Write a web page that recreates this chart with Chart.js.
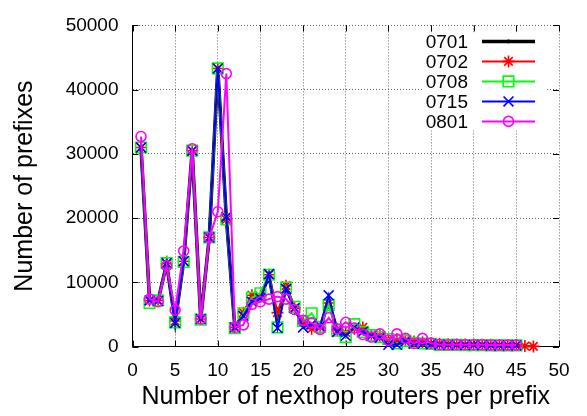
<!DOCTYPE html>
<html>
<head>
<meta charset="utf-8">
<script src="https://cdn.jsdelivr.net/npm/chart.js"></script>
<style>
html,body{margin:0;padding:0;background:#fff;}
#wrap{width:587px;height:416px;}
</style>
</head>
<body>
<div id="wrap"><canvas id="c" width="587" height="416"></canvas></div>
<script>
// ---- data ----
const nexthops = [1,2,3,4,5,6,7,8,9,10,11,12,13,14,15,16,17,18,19,20,21,22,23,24,25,26,27,28,29,30,31,32,33,34,35,36,37,38,39,40,41,42,43,44,45,46,47];
const seriesNames = ["0701","0702","0708","0715","0801"];
const s0701 = [31000,7200,7200,12900,3900,13300,30500,4300,17000,43300,20000,3000,5000,7500,7800,11000,4000,9200,6000,3500,3500,3000,7000,2500,2000,3000,2500,1800,1600,1000,800,900,700,600,500,400,350,300,300,300,250,250,250,200,200,50];
const s0702 = [31000,7200,7200,12900,4000,13300,30500,4300,17000,43300,19800,3000,5300,8000,7800,11200,5300,9500,6000,3800,2800,3000,6800,2600,2200,2800,3000,1800,1700,1100,900,1000,800,700,500,450,400,350,350,300,300,300,250,250,250,100,50];
const s0708 = [31000,6800,7200,13000,3800,13200,30500,4200,17000,43300,19800,2900,5200,7600,8300,11200,3000,9200,6200,4000,5200,3100,6500,2500,1500,3500,2300,1800,1500,1200,500,900,600,500,450,300,300,300,250,250,250,200,200,200,200];
const s0715 = [31000,7200,7100,13000,3700,13300,30500,4300,17000,43300,20200,3000,4800,7000,7500,11300,2900,9000,6000,3000,3500,3200,8000,2300,1700,3000,2300,1700,1400,300,300,800,500,450,400,300,300,250,250,250,250,200,200,200,200];
const s0801 = [32700,7400,7000,12600,5700,14900,30800,4300,17000,21000,42500,3000,3400,6600,7000,7400,7800,7400,5800,4100,3700,2700,4500,2800,3800,2900,1900,1500,2000,1000,2000,1300,500,1300,550,350,300,350,300,300,300,250,250,250,250];
const xTickValues = [0,5,10,15,20,25,30,35,40,45,50];
const yTickValues = [0,10000,20000,30000,40000,50000];

const FONT = "'Liberation Sans', Arial, Helvetica, sans-serif";
const toPts = arr => arr.map((v, i) => ({x: nexthops[i], y: v}));

const styles = [
  {color:'#000000', pointStyle:'circle', radius:1.5, lineWidth:3.5, fill:true},
  {color:'#ff0000', pointStyle:'star', radius:6, lineWidth:2, fill:false},
  {color:'#00ff00', pointStyle:'rect', radius:7.5, lineWidth:2, fill:false},
  {color:'#0000ff', pointStyle:'crossRot', radius:7, lineWidth:2, fill:false},
  {color:'#ff00ff', pointStyle:'circle', radius:5, lineWidth:2, fill:false}
];
const allSeries = [s0701, s0702, s0708, s0715, s0801];

const datasets = allSeries.map((s, i) => ({
  label: seriesNames[i],
  data: toPts(s),
  borderColor: styles[i].color,
  backgroundColor: styles[i].fill ? styles[i].color : 'rgba(0,0,0,0)',
  borderWidth: styles[i].lineWidth,
  pointStyle: styles[i].pointStyle,
  pointRadius: styles[i].radius,
  pointBorderWidth: i === 0 ? 1 : 1.6,
  pointBorderColor: styles[i].color,
  pointBackgroundColor: styles[i].fill ? styles[i].color : 'rgba(0,0,0,0)',
  tension: 0,
  clip: false,
  order: 5 - i
}));

// inward tick marks on all four sides (gnuplot style)
const tickPlugin = {
  id: 'inTicks',
  beforeDatasetsDraw(chart) {
    const {ctx, chartArea: a, scales: {x, y}} = chart;
    ctx.save();
    ctx.strokeStyle = '#000';
    ctx.lineWidth = 1;
    ctx.beginPath();
    const L = 6;
    xTickValues.forEach(v => {
      const px = Math.round(x.getPixelForValue(v)) + 0.5;
      ctx.moveTo(px, a.bottom); ctx.lineTo(px, a.bottom - L);
      ctx.moveTo(px, a.top); ctx.lineTo(px, a.top + L);
    });
    yTickValues.forEach(v => {
      const py = Math.round(y.getPixelForValue(v)) + 0.5;
      ctx.moveTo(a.left, py); ctx.lineTo(a.left + L, py);
      ctx.moveTo(a.right, py); ctx.lineTo(a.right - L, py);
    });
    ctx.stroke();
    ctx.restore();
  }
};

// gnuplot-like key: text on the left, sample on the right
const keyPlugin = {
  id: 'gpKey',
  afterDraw(chart) {
    const {ctx, chartArea: a} = chart;
    ctx.save();
    ctx.fillStyle = '#fff';
    ctx.fillRect(a.right - 136, a.top + 7, 124, 98);
    ctx.font = '19px ' + FONT;
    ctx.textAlign = 'right';
    ctx.textBaseline = 'middle';
    chart.data.datasets.forEach((ds, i) => {
      const yy = a.top + 16 + 20 * i;
      ctx.fillStyle = '#000';
      ctx.fillText(ds.label, a.right - 91, yy + 1);
      const x0 = a.right - 77, x1 = a.right - 24;
      ctx.strokeStyle = ds.borderColor;
      ctx.lineWidth = ds.borderWidth;
      ctx.beginPath(); ctx.moveTo(x0, yy); ctx.lineTo(x1, yy); ctx.stroke();
      ctx.lineWidth = ds.pointBorderWidth;
      ctx.fillStyle = ds.pointBackgroundColor;
      Chart.helpers.drawPoint(ctx, {
        pointStyle: ds.pointStyle, radius: ds.pointRadius, rotation: 0,
        borderWidth: ds.pointBorderWidth
      }, (x0 + x1) / 2, yy);
    });
    ctx.restore();
  }
};

new Chart(document.getElementById('c'), {
  type: 'line',
  data: {datasets},
  plugins: [tickPlugin, keyPlugin],
  options: {
    responsive: false,
    animation: false,
    devicePixelRatio: 1,
    layout: {padding: {top: 13, right: 28, left: 0, bottom: 0}},
    plugins: {legend: {display: false}, tooltip: {enabled: false}},
    scales: {
      x: {
        type: 'linear', min: 0, max: 50,
        afterBuildTicks: s => { s.ticks = xTickValues.map(v => ({value: v})); },
        afterFit: s => { s.height = 69.3; },
        grid: {color: '#666', lineWidth: 1, drawTicks: false},
        border: {display: true, color: '#000', width: 1, dash: [1,2]},
        ticks: {color: '#000', font: {family: FONT, size: 19}, padding: 13, maxRotation: 0, autoSkip: false,
                callback: v => String(v)},
        title: {display: true, text: 'Number of nexthop routers per prefix', color: '#000',
                font: {family: FONT, size: 25}, padding: {top: 0, bottom: 4}}
      },
      y: {
        type: 'linear', min: 0, max: 50000,
        afterBuildTicks: s => { s.ticks = yTickValues.map(v => ({value: v})); },
        afterFit: s => { s.width = 132.5; },
        grid: {color: '#666', lineWidth: 1, drawTicks: false},
        border: {display: true, color: '#000', width: 1, dash: [1,2]},
        ticks: {color: '#000', font: {family: FONT, size: 19}, padding: 14, autoSkip: false,
                callback: v => String(v)},
        title: {display: true, text: 'Number of prefixes', color: '#000',
                font: {family: FONT, size: 25}, padding: {top: 10.5, bottom: 0}}
      }
    }
  }
});
</script>
</body>
</html>
